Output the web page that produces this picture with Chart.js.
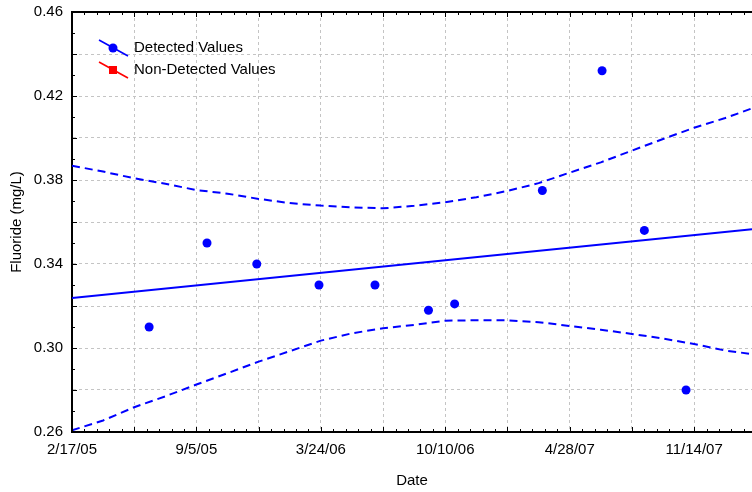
<!DOCTYPE html>
<html>
<head>
<meta charset="utf-8">
<script src="https://cdn.jsdelivr.net/npm/chart.js@4/dist/chart.umd.min.js"></script>
<style>
  body { margin: 0; background: #fff; }
  #wrap { width: 752px; height: 492px; }
</style>
</head>
<body>
<div id="wrap"><canvas id="fluorideChart" width="752" height="492"></canvas></div>
<script>
// x axis is days since the first tick date
const startDate = '2005-02-17';
const xMaxDays = 1093;
const xTickLabels = ['2/17/05', '9/5/05', '3/24/06', '10/10/06', '4/28/07', '11/14/07'];
const yTickLabels = ['0.26', '0.30', '0.34', '0.38', '0.42', '0.46'];

// detected samples
const sampleDates = ['2005-06-21', '2005-09-22', '2005-12-11', '2006-03-21', '2006-06-19',
    '2006-09-13', '2006-10-25', '2007-03-15', '2007-06-19', '2007-08-26', '2007-11-01'];
const fluoride = [0.310, 0.350, 0.340, 0.330, 0.330, 0.318, 0.321, 0.375, 0.432, 0.356, 0.280];

// non-detected samples (none in this period)
const nonDetectDates = [];
const nonDetectValues = [];

// trend line and confidence band
const trendDays = [0, 1093];
const trendValues = [0.3238, 0.3565];
const bandDays = [0, 50, 100, 150, 200, 250, 300, 350, 400, 450, 500, 550, 600, 650, 700,
    750, 800, 850, 900, 950, 1000, 1050, 1093];
const upperBand = [0.3868, 0.3840, 0.3808, 0.3782, 0.3752, 0.3735, 0.3710, 0.3690, 0.3678, 0.3670, 0.3665, 0.3677,
    0.3694, 0.3718, 0.3748, 0.3785, 0.3835, 0.3884, 0.3940, 0.3995, 0.4049, 0.4095, 0.4141];
const lowerBand = [0.2608, 0.2655, 0.2718, 0.2770, 0.2826, 0.2880, 0.2935, 0.2985, 0.3035, 0.3070, 0.3094, 0.3110,
    0.3130, 0.3132, 0.3132, 0.3123, 0.3105, 0.3087, 0.3067, 0.3045, 0.3019, 0.2988, 0.2971];

const FONT = '"Liberation Sans", Arial, sans-serif';
const FSIZE = 15;

function dayOf(s) {
    return Math.round((new Date(s) - new Date(startDate)) / 86400000);
}
function pairs(xs, ys) {
    return xs.map((x, i) => ({ x: x, y: ys[i] }));
}

// inward tick marks and the top frame line
const frameTicks = {
    id: 'frameTicks',
    afterDraw(chart) {
        const { ctx, chartArea: a, scales: { x, y } } = chart;
        ctx.save();
        ctx.strokeStyle = '#000';
        ctx.lineWidth = 2;
        ctx.beginPath();
        ctx.moveTo(a.left - 1, a.top);
        ctx.lineTo(a.right, a.top);
        ctx.stroke();
        ctx.lineWidth = 1;
        ctx.beginPath();
        for (let d = 0; d <= x.max; d += 20) {
            const len = d % 100 === 0 ? 5 : 3;
            const px = Math.round(x.getPixelForValue(d)) + 0.5;
            ctx.moveTo(px, a.bottom);
            ctx.lineTo(px, a.bottom - len);
            ctx.moveTo(px, a.top);
            ctx.lineTo(px, a.top + len);
        }
        for (let i = 0; i <= 20; i++) {
            const len = i % 2 === 0 ? 5 : 3;
            const py = Math.round(y.getPixelForValue(y.min + i * 0.01)) + 0.5;
            ctx.moveTo(a.left, py);
            ctx.lineTo(a.left + len, py);
        }
        ctx.stroke();
        ctx.restore();
    }
};

// legend in the top-left corner, drawn like the original (slanted line + marker)
const cornerLegend = {
    id: 'cornerLegend',
    afterDraw(chart) {
        const ctx = chart.ctx;
        const items = chart.data.datasets.filter(ds => ds.inLegend);
        ctx.save();
        ctx.font = FSIZE + 'px ' + FONT;
        ctx.textBaseline = 'middle';
        items.forEach((ds, i) => {
            const cy = 48 + i * 22;
            ctx.strokeStyle = ds.borderColor;
            ctx.fillStyle = ds.backgroundColor;
            ctx.lineWidth = 1.5;
            ctx.beginPath();
            ctx.moveTo(99, cy - 8);
            ctx.lineTo(128, cy + 8);
            ctx.stroke();
            ctx.beginPath();
            if (ds.pointStyle === 'rect') {
                ctx.fillRect(109, cy - 4, 8, 8);
            } else {
                ctx.arc(113, cy, 4.5, 0, Math.PI * 2);
                ctx.fill();
            }
            ctx.fillStyle = '#000';
            ctx.fillText(ds.label, 134, cy);
        });
        ctx.restore();
    }
};

const ctx = document.getElementById('fluorideChart').getContext('2d');
new Chart(ctx, {
    type: 'scatter',
    data: {
        datasets: [
            {
                label: 'Detected Values',
                inLegend: true,
                data: pairs(sampleDates.map(dayOf), fluoride),
                backgroundColor: '#0000ff',
                borderColor: '#0000ff',
                pointStyle: 'circle',
                pointRadius: 4.5,
                borderWidth: 0
            },
            {
                label: 'Non-Detected Values',
                inLegend: true,
                data: pairs(nonDetectDates.map(dayOf), nonDetectValues),
                backgroundColor: '#ff0000',
                borderColor: '#ff0000',
                pointStyle: 'rect',
                pointRadius: 4
            },
            {
                label: 'Trend',
                data: pairs(trendDays, trendValues),
                showLine: true,
                borderColor: '#0000ff',
                borderWidth: 2,
                pointRadius: 0
            },
            {
                label: 'Upper limit',
                data: pairs(bandDays, upperBand),
                showLine: true,
                borderColor: '#0000ff',
                borderWidth: 2,
                borderDash: [8, 5],
                pointRadius: 0
            },
            {
                label: 'Lower limit',
                data: pairs(bandDays, lowerBand),
                showLine: true,
                borderColor: '#0000ff',
                borderWidth: 2,
                borderDash: [8, 5],
                pointRadius: 0
            }
        ]
    },
    options: {
        responsive: false,
        animation: false,
        layout: { autoPadding: false, padding: { top: 12, right: 0, left: 0, bottom: 0 } },
        plugins: {
            legend: { display: false },
            tooltip: { enabled: false }
        },
        scales: {
            x: {
                type: 'linear',
                min: 0,
                max: xMaxDays,
                // gridline every 100 days, label every 200
                afterBuildTicks: scale => {
                    const t = [];
                    for (let d = 0; d <= 1000; d += 100) t.push({ value: d });
                    scale.ticks = t;
                },
                afterFit: scale => { scale.height = 60; scale.paddingRight = 0; scale.paddingLeft = 0; },
                grid: { color: '#c4c4c4', lineWidth: 1, drawTicks: false },
                border: { color: '#000', width: 2, dash: [3, 3] },
                ticks: {
                    autoSkip: false,
                    maxRotation: 0,
                    padding: 9,
                    color: '#000',
                    font: { family: FONT, size: FSIZE },
                    callback: value => {
                        const d = Math.round(value);
                        return d % 200 === 0 ? xTickLabels[d / 200] : '';
                    }
                },
                title: {
                    display: true,
                    text: 'Date',
                    color: '#000',
                    font: { family: FONT, size: FSIZE },
                    padding: { top: 0, bottom: 2 }
                }
            },
            y: {
                min: 0.26,
                max: 0.46,
                afterFit: scale => { scale.width = 72; scale.paddingTop = 0; scale.paddingBottom = 0; },
                grid: { color: '#c4c4c4', lineWidth: 1, drawTicks: false },
                border: { color: '#000', width: 2, dash: [3, 3] },
                ticks: {
                    stepSize: 0.02,
                    autoSkip: false,
                    padding: 9,
                    color: '#000',
                    font: { family: FONT, size: FSIZE },
                    callback: value => {
                        const k = Math.round((value - 0.26) / 0.02);
                        return k % 2 === 0 ? yTickLabels[k / 2] : '';
                    }
                },
                title: {
                    display: true,
                    text: 'Fluoride (mg/L)',
                    color: '#000',
                    font: { family: FONT, size: FSIZE },
                    padding: { top: 8, bottom: 0 }
                }
            }
        }
    },
    plugins: [frameTicks, cornerLegend]
});
</script>
</body>
</html>
